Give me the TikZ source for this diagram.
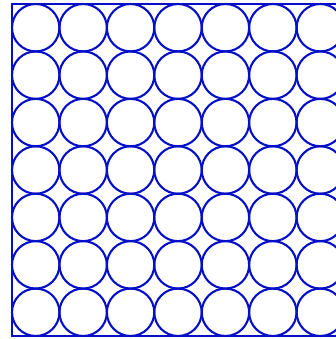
\documentclass[tikz,border=0pt]{standalone}
\definecolor{pen}{RGB}{5,15,200}
\begin{document}
\begin{tikzpicture}[x=1pt,y=1pt,
  outline/.style={draw=pen,line width=2.6pt},
  ring/.style={draw=pen,line width=2.1pt}]
\useasboundingbox (0,0) rectangle (336,339);
\clip (0,0) rectangle (336,339);
\fill[white] (0,0) rectangle (336,339);
\def\r{23.714}
\foreach \i in {0,...,6}{
  \foreach \j in {0,...,6}{
    \draw[ring] ({12+\r*(2*\i+1)},{3+\r*(2*\j+1)}) circle (\r);
  }
}
\draw[outline] (12,3) rectangle (344,335);
\end{tikzpicture}
\end{document}
